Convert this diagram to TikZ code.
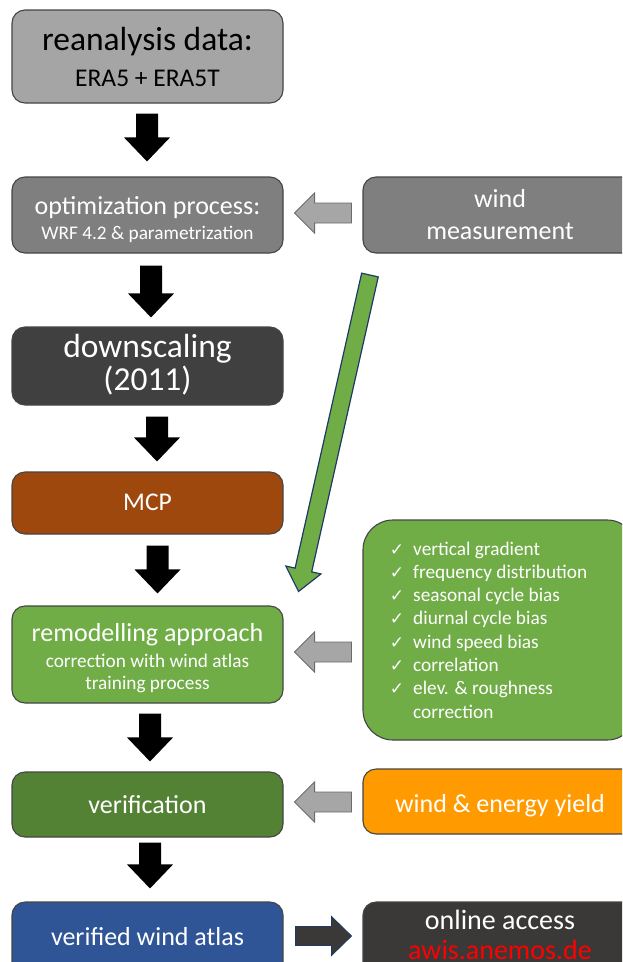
\documentclass[tikz,border=0pt]{standalone}
\usepackage{fontspec}
\setmainfont{Carlito}
\newfontfamily\symf{DejaVu Sans}
\usetikzlibrary{calc}
\definecolor{boxline}{HTML}{454545}
\definecolor{lgray}{HTML}{A5A5A5}
\definecolor{mgray}{HTML}{7F7F7F}
\definecolor{dgray}{HTML}{404040}
\definecolor{brown1}{HTML}{9E480E}
\definecolor{green1}{HTML}{70AD47}
\definecolor{green2}{HTML}{548235}
\definecolor{orange1}{HTML}{FF9A00}
\definecolor{blue1}{HTML}{2F5597}
\definecolor{dark1}{HTML}{3B3838}
\definecolor{navy1}{HTML}{203864}
\definecolor{arrgray}{HTML}{A6A6A6}
\definecolor{arrline}{HTML}{6B6B6B}
\definecolor{red1}{HTML}{FF0000}
\newcommand\blkdown[5]{%
  \fill[black] let \p1=(#1.south), \p2=(#2.north) in
  (\x1+#3pt-11pt,\y1-#4pt) -- (\x1+#3pt+11pt,\y1-#4pt) -- (\x1+#3pt+11pt,\y2+#5pt+24pt)
  -- (\x1+#3pt+23pt,\y2+#5pt+24pt) -- (\x1+#3pt,\y2+#5pt) -- (\x1+#3pt-23pt,\y2+#5pt+24pt)
  -- (\x1+#3pt-11pt,\y2+#5pt+24pt) -- cycle;}
\newcommand\blkleft[3]{%
  \filldraw[fill=arrgray, draw=arrline, line width=0.9pt] let \p1=(#1.west), \p2=(#2.east), \p3=(0,#3) in
  (\x1-11pt,\y3+10pt) -- (\x2+31pt,\y3+10pt) -- (\x2+31pt,\y3+20pt) -- (\x2+11pt,\y3)
  -- (\x2+31pt,\y3-20pt) -- (\x2+31pt,\y3-10pt) -- (\x1-11pt,\y3-10pt) -- cycle;}
\begin{document}
\begin{tikzpicture}[x=1pt,y=-1pt,
  box/.style={draw=boxline, line width=1.1pt, rounded corners=13pt, inner sep=0pt},
  txt/.style={inner sep=0pt, anchor=base, text=white},
  fbig/.style={font=\fontsize{33.5}{40}\selectfont},
  fmed/.style={font=\fontsize{26}{31}\selectfont},
  fsub/.style={font=\fontsize{19.3}{23}\selectfont},
  fera/.style={font=\fontsize{25.5}{30}\selectfont}]
\useasboundingbox (0,0) rectangle (622,962);
\clip (0,0) rectangle (622,962);
% boxes
\node[box, fill=lgray, minimum width=271pt, minimum height=93pt] (b1) at (147.5,56.5) {};
\node[box, fill=mgray, minimum width=271pt, minimum height=76pt] (b2) at (147.5,215) {};
\node[box, fill=mgray, minimum width=274pt, minimum height=76pt] (wm) at (500,215) {};
\node[box, fill=dgray, minimum width=271pt, minimum height=78pt] (b3) at (147.5,366) {};
\node[box, fill=brown1, minimum width=271pt, minimum height=62pt] (b4) at (147.5,503) {};
\node[box, fill=green1, minimum width=271pt, minimum height=97pt] (b5) at (147.5,654.5) {};
\node[box, fill=green1, rounded corners=30pt, minimum width=274pt, minimum height=220pt] (chk) at (500,630) {};
\node[box, fill=green2, minimum width=271pt, minimum height=65pt] (b6) at (147.5,804.5) {};
\node[box, fill=orange1, minimum width=274pt, minimum height=65pt] (ey) at (500,801.5) {};
\node[box, fill=blue1, minimum width=271pt, minimum height=78pt] (b7) at (147.5,941) {};
\node[box, fill=dark1, minimum width=274pt, minimum height=78pt] (oa) at (500,941) {};
% texts
\node[txt, fbig, text=black] (t1a) at (147.5,50) {reanalysis data:};
\node[txt, fera, text=black] (t1b) at (147.5,86) {ERA5 + ERA5T};
\node[txt, fmed] (t2a) at (147.5,214) {optimization process:};
\node[txt, fsub] (t2b) at (147.5,239) {WRF 4.2 \& parametrization};
\node[txt, fmed] (twa) at (500,207) {wind};
\node[txt, fmed] (twb) at (500,239) {measurement};
\node[txt, fbig] (t3a) at (147.5,357) {downscaling};
\node[txt, fbig] (t3b) at (147.5,390) {(2011)};
\node[txt, fera] (t4) at (147.5,510) {MCP};
\node[txt, fmed] (t5a) at (147.5,641) {remodelling approach};
\node[txt, fsub] (t5b) at (147.5,667) {correction with wind atlas};
\node[txt, fsub] (t5c) at (147.5,689) {training process};
\node[txt, fmed] (t6) at (147.5,813) {verification};
\node[txt, fmed] (te) at (500,812) {wind \& energy yield};
\node[txt, fmed] (t7) at (147.5,945) {verified wind atlas};
\node[txt, font=\fontsize{28}{33}\selectfont] (toa) at (500,929) {online access};
\node[txt, font=\fontsize{28}{33}\selectfont, text=red1] (tob) at (500,959) {awis.anemos.de};
% checklist
\foreach \t [count=\i from 0] in {vertical gradient, frequency distribution, seasonal cycle bias, diurnal cycle bias, wind speed bias, correlation, elev. \& roughness}{
  \node[txt, font=\symf\fontsize{17}{19}\selectfont] (ck\i) at (397,555+\i*23.3) {✓};
  \node[txt, fsub, anchor=base west] (cl\i) at (413,555+\i*23.3) {\t};
}
\node[txt, fsub, anchor=base west] (cl7) at (413,718) {correction};
% down arrows
\blkdown{b1}{b2}{-0.5}{10}{15}
\blkdown{b2}{b3}{3.5}{12}{9}
\blkdown{b3}{b4}{9.5}{11}{10}
\blkdown{b4}{b5}{10}{11}{12}
\blkdown{b5}{b6}{2.5}{10}{10}
\blkdown{b6}{b7}{2.5}{5}{13}
% left gray arrows
\blkleft{wm}{b2}{213}
\blkleft{chk}{b5}{652}
\blkleft{ey}{b6}{802}
% right dark arrow
\filldraw[fill=dark1, draw=navy1, line width=0.9pt] let \p1=(b7.east), \p2=(oa.west), \p3=(0,936) in
  (\x1+12pt,\y3+9.5pt) -- (\x2-31pt,\y3+9.5pt) -- (\x2-31pt,\y3+19.5pt) -- (\x2-11pt,\y3)
  -- (\x2-31pt,\y3-19.5pt) -- (\x2-31pt,\y3-9.5pt) -- (\x1+12pt,\y3-9.5pt) -- cycle;
% green arrow
\coordinate (gs) at ($(wm.south west)+(7.5,21.5)$);
\coordinate (gt) at ($(b5.north east)+(15,-14)$);
\coordinate (gh) at ($(gt)!22pt!(gs)$);
\filldraw[fill=green1, draw=navy1, line width=1.2pt, line join=miter]
  ($(gs)!8.5pt!90:(gt)$) -- ($(gh)!8.5pt!90:(gt)$) -- ($(gh)!18pt!90:(gt)$) -- (gt)
  -- ($(gh)!18pt!-90:(gt)$) -- ($(gh)!8.5pt!-90:(gt)$) -- ($(gs)!8.5pt!-90:(gt)$) -- cycle;
\end{tikzpicture}
\end{document}
